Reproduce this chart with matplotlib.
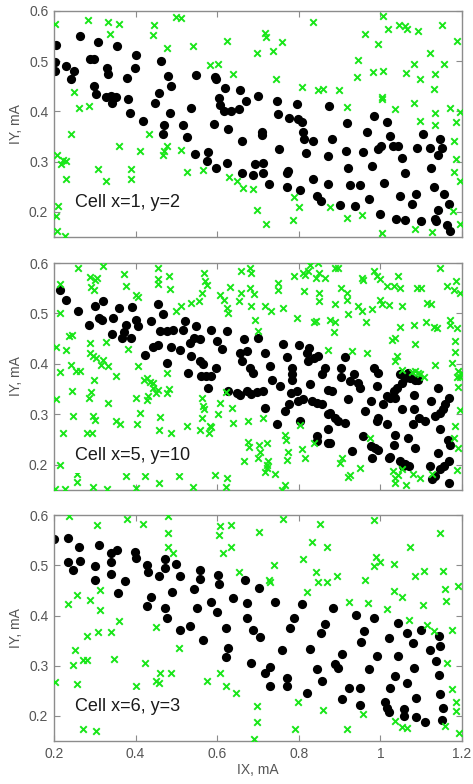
import matplotlib
matplotlib.use("Agg")
import matplotlib.pyplot as plt
import numpy as np

plt.rcParams['font.family'] = ['Liberation Sans', 'DejaVu Sans']

# ---------------- data ----------------
cell_labels = ["Cell x=1, y=2", "Cell x=5, y=10", "Cell x=6, y=3"]
x_ticks = [0.2, 0.4, 0.6, 0.8, 1.0, 1.2]
x_tick_labels = ["0.2", "0.4", "0.6", "0.8", "1", "1.2"]
y_ticks = [0.2, 0.3, 0.4, 0.5, 0.6]
y_tick_labels = ["0.2", "0.3", "0.4", "0.5", "0.6"]

cell1_black = [
    (0.206, 0.533), (0.203, 0.498), (0.203, 0.480), (0.265, 0.550), (0.230, 0.490),
    (0.248, 0.480), (0.241, 0.465), (0.307, 0.538), (0.289, 0.505), (0.297, 0.504),
    (0.298, 0.450), (0.302, 0.435), (0.330, 0.487), (0.332, 0.474), (0.328, 0.429),
    (0.341, 0.431), (0.343, 0.417), (0.353, 0.429), (0.355, 0.531), (0.380, 0.466),
    (0.382, 0.424), (0.386, 0.397), (0.398, 0.486), (0.400, 0.513), (0.418, 0.381),
    (0.447, 0.417), (0.457, 0.437), (0.463, 0.500), (0.469, 0.372), (0.467, 0.354),
    (0.480, 0.470), (0.488, 0.450), (0.484, 0.397), (0.515, 0.372), (0.525, 0.348),
    (0.537, 0.407), (0.548, 0.472), (0.545, 0.315), (0.574, 0.301), (0.578, 0.319),
    (0.593, 0.374), (0.594, 0.469), (0.598, 0.464), (0.597, 0.288), (0.605, 0.427),
    (0.607, 0.412), (0.617, 0.401), (0.619, 0.447), (0.623, 0.298), (0.627, 0.364),
    (0.634, 0.401), (0.654, 0.404), (0.656, 0.443), (0.660, 0.341), (0.661, 0.277),
    (0.670, 0.421), (0.688, 0.273), (0.692, 0.296), (0.699, 0.431), (0.709, 0.352),
    (0.709, 0.359), (0.712, 0.298), (0.713, 0.278), (0.728, 0.256), (0.746, 0.421),
    (0.750, 0.394), (0.752, 0.325), (0.772, 0.278), (0.774, 0.282), (0.772, 0.250),
    (0.775, 0.386), (0.795, 0.414), (0.799, 0.384), (0.807, 0.378), (0.803, 0.243),
    (0.811, 0.358), (0.813, 0.344), (0.818, 0.316), (0.834, 0.341), (0.834, 0.266),
    (0.844, 0.232), (0.854, 0.222), (0.875, 0.411), (0.881, 0.344), (0.872, 0.255),
    (0.872, 0.311), (0.902, 0.214), (0.917, 0.377), (0.916, 0.321), (0.921, 0.288),
    (0.926, 0.254), (0.938, 0.212), (0.950, 0.254), (0.957, 0.319), (0.966, 0.358),
    (0.979, 0.291), (0.973, 0.225), (0.984, 0.390), (0.995, 0.325), (1.001, 0.331),
    (0.998, 0.195), (1.009, 0.258), (1.017, 0.379), (1.024, 0.350), (1.030, 0.331),
    (1.044, 0.331), (1.048, 0.232), (1.052, 0.306), (1.061, 0.278), (1.038, 0.185),
    (1.061, 0.184), (1.077, 0.215), (1.088, 0.235), (1.089, 0.327), (1.099, 0.181),
    (1.104, 0.354), (1.122, 0.326), (1.124, 0.288), (1.130, 0.250), (1.134, 0.185),
    (1.137, 0.182), (1.142, 0.204), (1.142, 0.313), (1.146, 0.344), (1.151, 0.326),
    (1.155, 0.235), (1.167, 0.215), (1.164, 0.173), (1.171, 0.161),
]

cell1_green = [
    (0.203, 0.574), (0.283, 0.582), (0.333, 0.578), (0.360, 0.574), (0.337, 0.555),
    (0.445, 0.573), (0.443, 0.553), (0.499, 0.588), (0.512, 0.586), (0.541, 0.530),
    (0.478, 0.527), (0.582, 0.492), (0.602, 0.494), (0.625, 0.540), (0.638, 0.474),
    (0.697, 0.517), (0.717, 0.557), (0.719, 0.549), (0.737, 0.520), (0.758, 0.538),
    (0.744, 0.464), (0.834, 0.578), (0.807, 0.449), (0.846, 0.443), (0.858, 0.444),
    (0.899, 0.443), (0.917, 0.409), (0.944, 0.502), (0.942, 0.468), (0.961, 0.555),
    (0.981, 0.478), (0.995, 0.535), (1.003, 0.429), (1.004, 0.424), (1.006, 0.590),
    (1.006, 0.480), (1.018, 0.564), (1.036, 0.405), (1.046, 0.572), (1.059, 0.571),
    (1.065, 0.564), (1.063, 0.476), (1.081, 0.494), (1.093, 0.561), (1.096, 0.465),
    (1.081, 0.417), (1.097, 0.380), (1.122, 0.517), (1.130, 0.444), (1.134, 0.475),
    (1.133, 0.397), (1.133, 0.372), (1.151, 0.573), (1.155, 0.494), (1.171, 0.407),
    (1.187, 0.540), (1.186, 0.378), (1.195, 0.399), (1.179, 0.341), (1.186, 0.305),
    (1.179, 0.280), (1.195, 0.262), (1.177, 0.201), (1.194, 0.175), (1.126, 0.159),
    (1.085, 0.166), (1.003, 0.157), (0.954, 0.193), (0.917, 0.187), (0.787, 0.230),
    (0.801, 0.210), (0.785, 0.183), (0.876, 0.209), (0.719, 0.175), (0.697, 0.203),
    (0.688, 0.246), (0.662, 0.248), (0.649, 0.262), (0.629, 0.270), (0.566, 0.283),
    (0.527, 0.280), (0.512, 0.323), (0.476, 0.331), (0.467, 0.313), (0.469, 0.321),
    (0.410, 0.320), (0.388, 0.286), (0.388, 0.265), (0.360, 0.331), (0.328, 0.262),
    (0.308, 0.285), (0.286, 0.411), (0.261, 0.407), (0.248, 0.439), (0.241, 0.354),
    (0.229, 0.265), (0.222, 0.303), (0.218, 0.295), (0.230, 0.301), (0.208, 0.313),
    (0.210, 0.212), (0.206, 0.192), (0.207, 0.162), (0.226, 0.151), (0.433, 0.354),
]

cell2_black = [
    (0.214, 0.546), (0.230, 0.526), (0.259, 0.505), (0.286, 0.478), (0.300, 0.515),
    (0.320, 0.525), (0.310, 0.492), (0.319, 0.488), (0.345, 0.492), (0.343, 0.460),
    (0.360, 0.510), (0.376, 0.478), (0.371, 0.464), (0.368, 0.452), (0.390, 0.451),
    (0.392, 0.513), (0.400, 0.488), (0.406, 0.475), (0.423, 0.418), (0.439, 0.485),
    (0.443, 0.433), (0.455, 0.437), (0.455, 0.518), (0.467, 0.499), (0.461, 0.465),
    (0.477, 0.466), (0.491, 0.468), (0.476, 0.402), (0.488, 0.433), (0.510, 0.427),
    (0.521, 0.485), (0.529, 0.382), (0.517, 0.468), (0.549, 0.475), (0.533, 0.442),
    (0.544, 0.452), (0.558, 0.449), (0.585, 0.468), (0.599, 0.445), (0.623, 0.465),
    (0.611, 0.429), (0.535, 0.416), (0.558, 0.406), (0.566, 0.399), (0.560, 0.376),
    (0.572, 0.376), (0.585, 0.376), (0.578, 0.353), (0.596, 0.392), (0.627, 0.346),
    (0.648, 0.343), (0.666, 0.449), (0.656, 0.422), (0.660, 0.406), (0.672, 0.426),
    (0.680, 0.392), (0.688, 0.382), (0.701, 0.452), (0.717, 0.422), (0.729, 0.396),
    (0.735, 0.369), (0.672, 0.346), (0.684, 0.340), (0.697, 0.345), (0.713, 0.346),
    (0.717, 0.313), (0.656, 0.338), (0.746, 0.280), (0.762, 0.440), (0.770, 0.414),
    (0.754, 0.356), (0.766, 0.306), (0.783, 0.392), (0.784, 0.379), (0.783, 0.369),
    (0.781, 0.343), (0.776, 0.320), (0.800, 0.437), (0.795, 0.346), (0.799, 0.326),
    (0.803, 0.287), (0.811, 0.330), (0.819, 0.422), (0.823, 0.406), (0.828, 0.361),
    (0.825, 0.432), (0.836, 0.412), (0.848, 0.416), (0.832, 0.326), (0.844, 0.323),
    (0.856, 0.320), (0.856, 0.379), (0.844, 0.257), (0.844, 0.248), (0.871, 0.244),
    (0.872, 0.349), (0.871, 0.300), (0.864, 0.392), (0.913, 0.414), (0.904, 0.392),
    (0.904, 0.374), (0.926, 0.366), (0.934, 0.379), (0.946, 0.363), (0.950, 0.353),
    (0.881, 0.347), (0.920, 0.330), (0.877, 0.303), (0.889, 0.293), (0.897, 0.287),
    (0.912, 0.283), (0.872, 0.270), (0.877, 0.244), (0.931, 0.227), (0.956, 0.257),
    (0.977, 0.237), (0.979, 0.214), (0.995, 0.230), (0.961, 0.307), (0.977, 0.326),
    (0.991, 0.356), (0.983, 0.392), (0.995, 0.382), (0.994, 0.293), (0.991, 0.287),
    (1.016, 0.280), (1.020, 0.214), (1.007, 0.320), (1.016, 0.336), (1.024, 0.333),
    (1.032, 0.346), (1.036, 0.333), (1.040, 0.353), (1.036, 0.260), (1.032, 0.240),
    (1.048, 0.379), (1.061, 0.373), (1.073, 0.373), (1.085, 0.369), (1.093, 0.369),
    (1.053, 0.363), (1.053, 0.310), (1.081, 0.339), (1.081, 0.310), (1.079, 0.280),
    (1.067, 0.254), (1.085, 0.234), (1.095, 0.293), (1.110, 0.287), (1.124, 0.326),
    (1.142, 0.353), (1.134, 0.297), (1.147, 0.303), (1.152, 0.310), (1.159, 0.320),
    (1.167, 0.333), (1.147, 0.270), (1.165, 0.250), (1.171, 0.240), (1.142, 0.224),
    (1.167, 0.207), (1.155, 0.197), (1.147, 0.191), (1.122, 0.197), (1.134, 0.178),
    (1.126, 0.171), (1.169, 0.164), (1.048, 0.207), (1.054, 0.197), (1.061, 0.201),
    (1.069, 0.197), (1.024, 0.215), (0.987, 0.234), (1.067, 0.382),
]

cell2_green = [
    (0.214, 0.558), (0.214, 0.501), (0.206, 0.433), (0.214, 0.383), (0.204, 0.331),
    (0.222, 0.263), (0.214, 0.200), (0.202, 0.152), (0.226, 0.152), (0.259, 0.591),
    (0.238, 0.455), (0.245, 0.457), (0.230, 0.428), (0.243, 0.397), (0.245, 0.347),
    (0.247, 0.296), (0.255, 0.385), (0.263, 0.386), (0.256, 0.181), (0.256, 0.166),
    (0.288, 0.572), (0.292, 0.552), (0.300, 0.567), (0.306, 0.570), (0.298, 0.547),
    (0.288, 0.441), (0.288, 0.421), (0.296, 0.415), (0.304, 0.412), (0.286, 0.332),
    (0.292, 0.345), (0.297, 0.369), (0.296, 0.296), (0.300, 0.289), (0.281, 0.263),
    (0.294, 0.263), (0.296, 0.155), (0.320, 0.595), (0.320, 0.408), (0.316, 0.398),
    (0.328, 0.443), (0.333, 0.395), (0.333, 0.322), (0.331, 0.152), (0.353, 0.377),
    (0.353, 0.287), (0.362, 0.281), (0.371, 0.578), (0.376, 0.554), (0.382, 0.430),
    (0.376, 0.177), (0.402, 0.536), (0.406, 0.532), (0.406, 0.395), (0.400, 0.332),
    (0.404, 0.281), (0.402, 0.154), (0.412, 0.302), (0.420, 0.369), (0.427, 0.372),
    (0.436, 0.364), (0.430, 0.336), (0.427, 0.329), (0.423, 0.177), (0.443, 0.362),
    (0.443, 0.352), (0.451, 0.342), (0.455, 0.349), (0.455, 0.591), (0.455, 0.569),
    (0.455, 0.558), (0.459, 0.294), (0.457, 0.269), (0.457, 0.164), (0.482, 0.574),
    (0.484, 0.548), (0.476, 0.382), (0.478, 0.343), (0.482, 0.351), (0.488, 0.263),
    (0.500, 0.505), (0.507, 0.177), (0.512, 0.514), (0.525, 0.277), (0.537, 0.521),
    (0.541, 0.155), (0.556, 0.524), (0.562, 0.540), (0.567, 0.580), (0.570, 0.564),
    (0.574, 0.557), (0.562, 0.332), (0.566, 0.316), (0.567, 0.311), (0.562, 0.293),
    (0.559, 0.269), (0.582, 0.276), (0.580, 0.263), (0.586, 0.274), (0.594, 0.180),
    (0.608, 0.537), (0.616, 0.527), (0.623, 0.511), (0.626, 0.501), (0.631, 0.552),
    (0.621, 0.345), (0.607, 0.322), (0.603, 0.300), (0.636, 0.312), (0.639, 0.283),
    (0.621, 0.155), (0.623, 0.174), (0.654, 0.524), (0.659, 0.585), (0.659, 0.540),
    (0.676, 0.246), (0.665, 0.208), (0.680, 0.591), (0.682, 0.581), (0.680, 0.550),
    (0.690, 0.539), (0.682, 0.514), (0.692, 0.488), (0.676, 0.286), (0.678, 0.236),
    (0.703, 0.240), (0.701, 0.466), (0.705, 0.226), (0.701, 0.213), (0.713, 0.293),
    (0.716, 0.514), (0.721, 0.243), (0.733, 0.504), (0.725, 0.207), (0.721, 0.200),
    (0.721, 0.193), (0.717, 0.185), (0.742, 0.181), (0.750, 0.560), (0.750, 0.547),
    (0.762, 0.511), (0.766, 0.260), (0.768, 0.250), (0.774, 0.225), (0.772, 0.210),
    (0.758, 0.150), (0.766, 0.159), (0.787, 0.574), (0.811, 0.580), (0.815, 0.577),
    (0.823, 0.584), (0.827, 0.597), (0.848, 0.600), (0.850, 0.580), (0.843, 0.570),
    (0.850, 0.540), (0.836, 0.484), (0.842, 0.486), (0.850, 0.525), (0.812, 0.545),
    (0.795, 0.491), (0.803, 0.279), (0.807, 0.232), (0.815, 0.213), (0.836, 0.243),
    (0.864, 0.570), (0.876, 0.488), (0.889, 0.484), (0.885, 0.464), (0.889, 0.519),
    (0.872, 0.428), (0.889, 0.591), (0.897, 0.590), (0.904, 0.550), (0.917, 0.540),
    (0.917, 0.527), (0.921, 0.498), (0.930, 0.425), (0.905, 0.213), (0.901, 0.203),
    (0.926, 0.180), (0.921, 0.175), (0.949, 0.193), (0.944, 0.514), (0.955, 0.570),
    (0.957, 0.567), (0.955, 0.505), (0.965, 0.484), (0.966, 0.421), (0.979, 0.509),
    (0.984, 0.585), (0.992, 0.574), (0.999, 0.569), (0.999, 0.527), (1.003, 0.519),
    (1.015, 0.554), (1.032, 0.554), (1.021, 0.516), (1.044, 0.574), (1.048, 0.550),
    (1.052, 0.514), (1.048, 0.474), (1.036, 0.451), (1.028, 0.448), (1.040, 0.415),
    (1.036, 0.405), (1.030, 0.187), (1.036, 0.174), (1.036, 0.164), (1.044, 0.180),
    (1.052, 0.192), (1.063, 0.160), (1.081, 0.478), (1.085, 0.439), (1.080, 0.181),
    (1.089, 0.550), (1.099, 0.551), (1.114, 0.521), (1.124, 0.519), (1.112, 0.484),
    (1.130, 0.474), (1.134, 0.398), (1.145, 0.590), (1.163, 0.554), (1.179, 0.547),
    (1.186, 0.565), (1.195, 0.540), (1.171, 0.488), (1.171, 0.478), (1.187, 0.471),
    (1.183, 0.445), (1.183, 0.423), (1.175, 0.402), (1.191, 0.385), (1.200, 0.382),
    (1.187, 0.375), (1.195, 0.375), (1.191, 0.355), (1.194, 0.309), (1.183, 0.276),
    (1.179, 0.253), (1.191, 0.233), (1.187, 0.190), (1.126, 0.181), (1.096, 0.174),
    (1.077, 0.384), (1.085, 0.385), (1.097, 0.379), (1.106, 0.375), (1.093, 0.382),
    (1.052, 0.388), (0.975, 0.253), (1.138, 0.472),
]

cell3_black = [
    (0.201, 0.552), (0.234, 0.554), (0.234, 0.507), (0.247, 0.491), (0.261, 0.537),
    (0.263, 0.509), (0.300, 0.498), (0.300, 0.471), (0.310, 0.540), (0.341, 0.524),
    (0.341, 0.507), (0.341, 0.483), (0.355, 0.530), (0.357, 0.445), (0.373, 0.468),
    (0.398, 0.527), (0.400, 0.514), (0.427, 0.501), (0.431, 0.486), (0.439, 0.437),
    (0.427, 0.420), (0.458, 0.479), (0.472, 0.512), (0.472, 0.494), (0.472, 0.415),
    (0.476, 0.395), (0.490, 0.448), (0.499, 0.502), (0.508, 0.479), (0.508, 0.372),
    (0.533, 0.380), (0.544, 0.453), (0.550, 0.415), (0.558, 0.490), (0.558, 0.472),
    (0.564, 0.351), (0.584, 0.428), (0.600, 0.408), (0.602, 0.481), (0.605, 0.463),
    (0.621, 0.375), (0.627, 0.336), (0.621, 0.318), (0.638, 0.435), (0.668, 0.471),
    (0.672, 0.425), (0.674, 0.395), (0.684, 0.306), (0.688, 0.371), (0.703, 0.455),
    (0.706, 0.357), (0.717, 0.285), (0.729, 0.298), (0.730, 0.260), (0.742, 0.428),
    (0.758, 0.332), (0.772, 0.276), (0.772, 0.260), (0.779, 0.375), (0.787, 0.396),
    (0.807, 0.424), (0.821, 0.245), (0.828, 0.334), (0.844, 0.293), (0.854, 0.365),
    (0.856, 0.269), (0.864, 0.384), (0.883, 0.415), (0.889, 0.304), (0.895, 0.296),
    (0.905, 0.324), (0.905, 0.233), (0.922, 0.256), (0.941, 0.402), (0.949, 0.256),
    (0.950, 0.221), (0.952, 0.347), (0.959, 0.369), (0.973, 0.293), (0.983, 0.395),
    (0.991, 0.320), (1.012, 0.228), (1.016, 0.215), (1.022, 0.207), (1.020, 0.355),
    (1.024, 0.256), (1.036, 0.279), (1.042, 0.320), (1.044, 0.386), (1.057, 0.213),
    (1.058, 0.199), (1.065, 0.365), (1.066, 0.266), (1.081, 0.296), (1.079, 0.345),
    (1.088, 0.236), (1.086, 0.197), (1.099, 0.371), (1.110, 0.187), (1.122, 0.331),
    (1.137, 0.309), (1.143, 0.359), (1.145, 0.340), (1.143, 0.281), (1.147, 0.243),
    (1.151, 0.192), (1.153, 0.216),
]

cell3_green = [
    (0.202, 0.267), (0.238, 0.598), (0.234, 0.423), (0.256, 0.441), (0.251, 0.331),
    (0.247, 0.302), (0.256, 0.263), (0.271, 0.174), (0.281, 0.359), (0.271, 0.311),
    (0.281, 0.311), (0.288, 0.431), (0.302, 0.170), (0.306, 0.580), (0.312, 0.451),
    (0.314, 0.412), (0.308, 0.367), (0.340, 0.367), (0.348, 0.314), (0.360, 0.390),
    (0.379, 0.593), (0.402, 0.260), (0.418, 0.583), (0.423, 0.306), (0.450, 0.269),
    (0.458, 0.266), (0.451, 0.377), (0.459, 0.286), (0.486, 0.286), (0.480, 0.598),
    (0.480, 0.565), (0.480, 0.537), (0.492, 0.524), (0.507, 0.336), (0.574, 0.269),
    (0.605, 0.560), (0.608, 0.578), (0.613, 0.525), (0.635, 0.580), (0.635, 0.537),
    (0.607, 0.286), (0.621, 0.260), (0.645, 0.246), (0.654, 0.487), (0.703, 0.567),
    (0.728, 0.471), (0.729, 0.466), (0.738, 0.501), (0.697, 0.220), (0.697, 0.188),
    (0.690, 0.155), (0.760, 0.593), (0.799, 0.228), (0.791, 0.174), (0.811, 0.512),
    (0.819, 0.448), (0.832, 0.547), (0.842, 0.486), (0.848, 0.466), (0.852, 0.582),
    (0.860, 0.212), (0.870, 0.537), (0.870, 0.466), (0.893, 0.479), (0.918, 0.174),
    (0.922, 0.428), (0.958, 0.203), (0.962, 0.471), (0.970, 0.425), (0.983, 0.591),
    (0.984, 0.498), (0.990, 0.516), (1.000, 0.507), (1.016, 0.413), (1.032, 0.503),
    (1.034, 0.450), (1.053, 0.438), (1.036, 0.190), (1.053, 0.177), (1.064, 0.175),
    (1.069, 0.392), (1.072, 0.537), (1.085, 0.478), (1.106, 0.488), (1.104, 0.421),
    (1.114, 0.382), (1.130, 0.369), (1.147, 0.564), (1.153, 0.488), (1.159, 0.453),
    (1.161, 0.430), (1.163, 0.306), (1.159, 0.180), (1.175, 0.372), (1.176, 0.254),
    (1.184, 0.228), (1.184, 0.210), (1.189, 0.459), (1.192, 0.166),
]

black_sets = [cell1_black, cell2_black, cell3_black]
green_sets = [cell1_green, cell2_green, cell3_green]

# ---------------- figure ----------------
fig = plt.figure(figsize=(4.73, 7.84), dpi=100)
positions = [
    [0.114, 0.698, 0.863, 0.288],
    [0.114, 0.375, 0.863, 0.2895],
    [0.114, 0.0548, 0.863, 0.288],
]
edge_col = '#8c8c8c'
tick_col = '#555555'
green = '#19e619'

for i, pos in enumerate(positions):
    ax = fig.add_axes(pos)
    b = np.array(black_sets[i])
    g = np.array(green_sets[i])
    ax.scatter(b[:, 0], b[:, 1], s=44, c='black', marker='o', linewidths=0, zorder=2)
    ax.scatter(g[:, 0], g[:, 1], s=22, c=green, marker='x', linewidths=1.4, zorder=3)
    ax.set_xlim(0.2, 1.2)
    ax.set_ylim(0.15, 0.6)
    ax.set_xticks(x_ticks)
    ax.set_yticks(y_ticks)
    ax.set_yticklabels(y_tick_labels)
    if i == 2:
        ax.set_xticklabels(x_tick_labels)
        ax.set_xlabel("IX, mA", fontsize=10, color=tick_col, labelpad=2)
    else:
        ax.set_xticklabels([])
    ax.set_ylabel("IY, mA", fontsize=10, color=tick_col, labelpad=4)
    ax.tick_params(direction='in', length=4, width=0.8, colors=edge_col,
                   labelcolor=tick_col, labelsize=10, top=True, right=True, pad=4)
    for sp in ax.spines.values():
        sp.set_color(edge_col)
        sp.set_linewidth(1.0)
    ax.text(0.251, 0.218, cell_labels[i], fontsize=13, color='#1a1a1a',
            ha='left', va='center', zorder=5,
            bbox=dict(facecolor='white', edgecolor='none', pad=6))

fig.savefig("out.png", dpi=100)
